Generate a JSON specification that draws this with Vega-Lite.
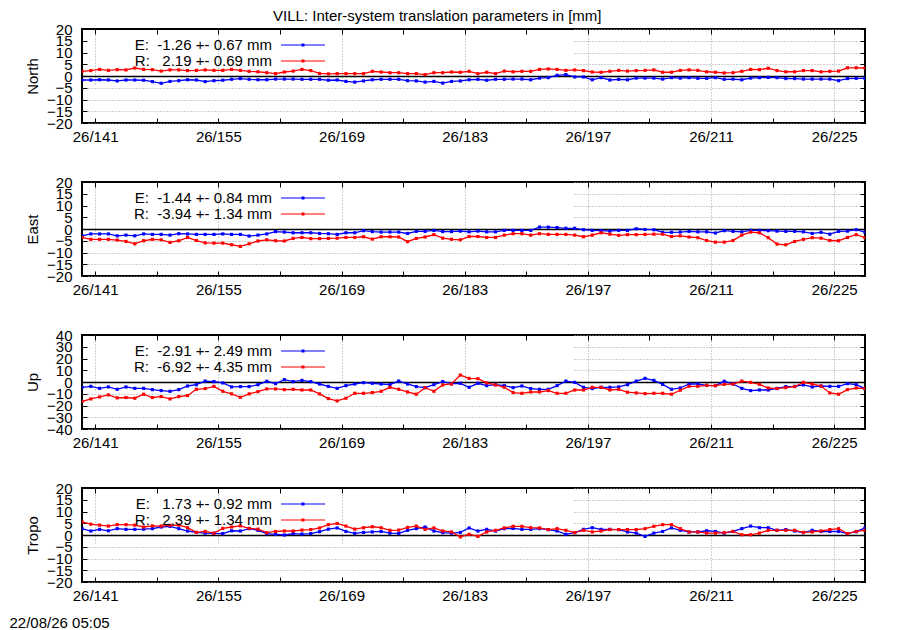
{
"$schema": "https://vega.github.io/schema/vega-lite/v6.json",
"padding": {"left": 8, "top": 9, "right": 5, "bottom": 0},
"background": "white",
"title": {"text": "VILL: Inter-system translation parameters in [mm]", "fontSize": 15, "fontWeight": "normal", "font": "Liberation Sans", "color": "black", "anchor": "middle", "offset": -3},
"data": {"values": [
{"d":139.5,"nE":-1.7,"nR":2.0,"eE":-2.9,"eR":-3.6,"uE":-4.5,"uR":-16.6,"tE":2.7,"tR":5.6},
{"d":140.5,"nE":-1.7,"nR":2.3,"eE":-2.1,"eR":-4.4,"uE":-3.7,"uR":-14.4,"tE":1.7,"tR":4.6},
{"d":141.5,"nE":-1.6,"nR":2.8,"eE":-2.1,"eR":-4.4,"uE":-5.4,"uR":-12.7,"tE":2.4,"tR":4.2},
{"d":142.5,"nE":-1.7,"nR":2.4,"eE":-2.1,"eR":-4.4,"uE":-4.2,"uR":-11.0,"tE":1.8,"tR":3.8},
{"d":143.5,"nE":-2.1,"nR":2.7,"eE":-2.9,"eR":-4.7,"uE":-6.2,"uR":-13.5,"tE":2.7,"tR":4.4},
{"d":144.5,"nE":-1.7,"nR":2.6,"eE":-2.6,"eR":-5.3,"uE":-4.2,"uR":-13.2,"tE":2.4,"tR":4.4},
{"d":145.5,"nE":-1.7,"nR":3.4,"eE":-2.9,"eR":-6.3,"uE":-5.4,"uR":-13.8,"tE":2.4,"tR":4.2},
{"d":146.5,"nE":-1.8,"nR":2.8,"eE":-2.1,"eR":-5.0,"uE":-5.4,"uR":-10.4,"tE":2.5,"tR":3.4},
{"d":147.5,"nE":-2.4,"nR":2.7,"eE":-2.3,"eR":-4.4,"uE":-6.5,"uR":-13.2,"tE":2.7,"tR":3.9},
{"d":148.5,"nE":-3.1,"nR":2.1,"eE":-2.3,"eR":-4.6,"uE":-7.3,"uR":-12.4,"tE":3.4,"tR":3.8},
{"d":149.5,"nE":-2.3,"nR":2.6,"eE":-2.6,"eR":-5.7,"uE":-7.9,"uR":-14.4,"tE":3.7,"tR":4.1},
{"d":150.5,"nE":-2.0,"nR":2.6,"eE":-2.0,"eR":-5.0,"uE":-6.5,"uR":-12.4,"tE":2.7,"tR":4.2},
{"d":151.5,"nE":-1.6,"nR":2.3,"eE":-2.1,"eR":-3.6,"uE":-3.4,"uR":-11.5,"tE":1.7,"tR":3.1},
{"d":152.5,"nE":-1.7,"nR":2.4,"eE":-2.3,"eR":-4.9,"uE":-2.3,"uR":-6.2,"tE":1.1,"tR":1.1},
{"d":153.5,"nE":-2.4,"nR":2.6,"eE":-2.3,"eR":-5.9,"uE":0.8,"uR":-5.6,"tE":0.8,"tR":1.5},
{"d":154.5,"nE":-2.0,"nR":2.4,"eE":-2.3,"eR":-6.0,"uE":0.3,"uR":-3.7,"tE":0.7,"tR":0.8},
{"d":155.5,"nE":-1.8,"nR":2.4,"eE":-2.1,"eR":-6.0,"uE":-0.8,"uR":-7.9,"tE":0.6,"tR":2.8},
{"d":156.5,"nE":-1.4,"nR":2.8,"eE":-2.3,"eR":-6.7,"uE":-4.2,"uR":-10.1,"tE":1.8,"tR":3.4},
{"d":157.5,"nE":-1.1,"nR":2.4,"eE":-2.3,"eR":-7.4,"uE":-3.9,"uR":-13.0,"tE":1.7,"tR":3.9},
{"d":158.5,"nE":-1.4,"nR":2.0,"eE":-3.0,"eR":-6.3,"uE":-3.9,"uR":-10.1,"tE":2.7,"tR":2.8},
{"d":159.5,"nE":-1.6,"nR":1.8,"eE":-2.6,"eR":-5.1,"uE":-2.3,"uR":-8.2,"tE":2.0,"tR":2.5},
{"d":160.5,"nE":-1.6,"nR":1.4,"eE":-2.1,"eR":-4.6,"uE":0.6,"uR":-5.9,"tE":0.6,"tR":1.0},
{"d":161.5,"nE":-1.3,"nR":1.0,"eE":-1.1,"eR":-5.0,"uE":-1.4,"uR":-5.9,"tE":0.3,"tR":1.5},
{"d":162.5,"nE":-1.3,"nR":1.7,"eE":-1.3,"eR":-5.1,"uE":2.0,"uR":-6.5,"tE":0.0,"tR":1.7},
{"d":163.5,"nE":-1.3,"nR":2.1,"eE":-1.6,"eR":-4.0,"uE":0.3,"uR":-6.2,"tE":0.6,"tR":1.7},
{"d":164.5,"nE":-1.4,"nR":2.8,"eE":-1.6,"eR":-3.6,"uE":1.4,"uR":-6.8,"tE":0.4,"tR":2.1},
{"d":165.5,"nE":-1.4,"nR":2.3,"eE":-1.6,"eR":-4.1,"uE":0.3,"uR":-6.8,"tE":0.6,"tR":2.3},
{"d":166.5,"nE":-1.4,"nR":1.1,"eE":-1.9,"eR":-4.1,"uE":-1.7,"uR":-10.1,"tE":1.4,"tR":3.0},
{"d":167.5,"nE":-1.8,"nR":0.9,"eE":-2.0,"eR":-4.0,"uE":-3.7,"uR":-14.1,"tE":2.5,"tR":4.4},
{"d":168.5,"nE":-1.7,"nR":1.0,"eE":-2.3,"eR":-3.9,"uE":-5.4,"uR":-16.1,"tE":3.0,"tR":4.9},
{"d":169.5,"nE":-2.3,"nR":1.0,"eE":-1.6,"eR":-3.6,"uE":-3.1,"uR":-13.8,"tE":1.5,"tR":3.8},
{"d":170.5,"nE":-2.6,"nR":1.0,"eE":-1.6,"eR":-3.6,"uE":-1.7,"uR":-9.6,"tE":0.7,"tR":2.5},
{"d":171.5,"nE":-2.1,"nR":1.0,"eE":-0.7,"eR":-3.3,"uE":-0.6,"uR":-9.6,"tE":1.1,"tR":3.1},
{"d":172.5,"nE":-1.6,"nR":2.0,"eE":-1.1,"eR":-4.3,"uE":-1.1,"uR":-9.0,"tE":1.3,"tR":3.5},
{"d":173.5,"nE":-1.4,"nR":1.7,"eE":-1.3,"eR":-3.3,"uE":-1.7,"uR":-7.9,"tE":1.5,"tR":3.1},
{"d":174.5,"nE":-1.4,"nR":1.4,"eE":-1.3,"eR":-3.3,"uE":-2.3,"uR":-4.5,"tE":0.8,"tR":2.0},
{"d":175.5,"nE":-1.4,"nR":1.4,"eE":-1.3,"eR":-3.4,"uE":0.8,"uR":-6.2,"tE":0.7,"tR":2.1},
{"d":176.5,"nE":-2.0,"nR":1.0,"eE":-1.9,"eR":-5.4,"uE":-1.7,"uR":-8.5,"tE":2.0,"tR":3.2},
{"d":177.5,"nE":-2.1,"nR":1.0,"eE":-1.0,"eR":-4.0,"uE":-3.9,"uR":-10.4,"tE":2.7,"tR":3.8},
{"d":178.5,"nE":-2.6,"nR":0.6,"eE":-1.0,"eR":-3.4,"uE":-4.8,"uR":-4.8,"tE":3.4,"tR":2.4},
{"d":179.5,"nE":-2.3,"nR":1.4,"eE":-0.6,"eR":-2.4,"uE":-2.3,"uR":-7.9,"tE":1.7,"tR":3.0},
{"d":180.5,"nE":-3.0,"nR":1.4,"eE":-1.1,"eR":-3.9,"uE":0.3,"uR":-2.5,"tE":1.0,"tR":1.7},
{"d":181.5,"nE":-2.3,"nR":1.7,"eE":-1.1,"eR":-4.4,"uE":-1.4,"uR":-1.7,"tE":0.8,"tR":1.3},
{"d":182.5,"nE":-2.1,"nR":1.6,"eE":-0.9,"eR":-4.6,"uE":-1.1,"uR":5.9,"tE":1.1,"tR":-0.8},
{"d":183.5,"nE":-1.6,"nR":2.0,"eE":-1.2,"eR":-3.2,"uE":-4.5,"uR":3.1,"tE":3.0,"tR":0.3},
{"d":184.5,"nE":-1.4,"nR":1.0,"eE":-0.9,"eR":-3.2,"uE":-1.1,"uR":2.8,"tE":1.7,"tR":-0.6},
{"d":185.5,"nE":-1.8,"nR":1.6,"eE":-1.2,"eR":-3.6,"uE":-3.1,"uR":-0.8,"tE":2.4,"tR":1.3},
{"d":186.5,"nE":-1.4,"nR":1.0,"eE":-1.2,"eR":-3.6,"uE":-2.3,"uR":-2.5,"tE":1.7,"tR":2.0},
{"d":187.5,"nE":-1.4,"nR":2.1,"eE":-0.6,"eR":-2.6,"uE":-3.1,"uR":-4.5,"tE":2.7,"tR":3.0},
{"d":188.5,"nE":-1.3,"nR":1.8,"eE":-0.6,"eR":-2.0,"uE":-4.8,"uR":-9.0,"tE":2.8,"tR":3.7},
{"d":189.5,"nE":-1.3,"nR":2.0,"eE":-0.6,"eR":-2.0,"uE":-3.4,"uR":-9.6,"tE":2.4,"tR":3.7},
{"d":190.5,"nE":-1.6,"nR":2.0,"eE":-0.6,"eR":-2.6,"uE":-5.6,"uR":-8.5,"tE":2.4,"tR":3.1},
{"d":191.5,"nE":-0.9,"nR":2.8,"eE":0.8,"eR":-2.0,"uE":-6.2,"uR":-8.5,"tE":2.7,"tR":3.0},
{"d":192.5,"nE":-0.7,"nR":3.0,"eE":0.8,"eR":-2.3,"uE":-6.2,"uR":-7.3,"tE":2.3,"tR":2.3},
{"d":193.5,"nE":0.3,"nR":2.8,"eE":0.6,"eR":-2.3,"uE":-3.1,"uR":-9.6,"tE":1.7,"tR":2.7},
{"d":194.5,"nE":0.6,"nR":2.4,"eE":0.3,"eR":-2.3,"uE":0.8,"uR":-9.6,"tE":0.3,"tR":2.0},
{"d":195.5,"nE":-0.4,"nR":2.6,"eE":0.3,"eR":-2.6,"uE":-0.3,"uR":-6.8,"tE":1.0,"tR":1.0},
{"d":196.5,"nE":-0.4,"nR":2.3,"eE":-0.3,"eR":-3.3,"uE":-4.5,"uR":-6.8,"tE":2.4,"tR":2.0},
{"d":197.5,"nE":-1.6,"nR":1.7,"eE":-0.6,"eR":-2.6,"uE":-5.6,"uR":-4.5,"tE":3.1,"tR":1.3},
{"d":198.5,"nE":-0.7,"nR":1.6,"eE":-0.7,"eR":-1.6,"uE":-4.5,"uR":-4.5,"tE":2.4,"tR":1.7},
{"d":199.5,"nE":-1.7,"nR":2.0,"eE":-0.9,"eR":-2.2,"uE":-4.5,"uR":-6.8,"tE":2.4,"tR":2.3},
{"d":200.5,"nE":-1.4,"nR":2.4,"eE":-0.6,"eR":-2.7,"uE":-4.2,"uR":-6.2,"tE":2.3,"tR":2.3},
{"d":201.5,"nE":-1.6,"nR":2.1,"eE":-0.6,"eR":-2.4,"uE":-2.3,"uR":-8.7,"tE":1.3,"tR":2.3},
{"d":202.5,"nE":-0.9,"nR":2.3,"eE":0.1,"eR":-2.4,"uE":0.8,"uR":-9.3,"tE":0.8,"tR":2.3},
{"d":203.5,"nE":-0.9,"nR":2.4,"eE":-0.2,"eR":-2.3,"uE":3.1,"uR":-9.9,"tE":-0.6,"tR":2.7},
{"d":204.5,"nE":-0.9,"nR":2.6,"eE":-0.3,"eR":-2.2,"uE":1.4,"uR":-9.6,"tE":0.8,"tR":3.7},
{"d":205.5,"nE":-1.3,"nR":1.6,"eE":-1.4,"eR":-2.2,"uE":-2.0,"uR":-9.6,"tE":1.5,"tR":4.4},
{"d":206.5,"nE":-0.7,"nR":1.6,"eE":-1.4,"eR":-3.2,"uE":-6.2,"uR":-10.4,"tE":3.0,"tR":4.4},
{"d":207.5,"nE":-0.9,"nR":2.4,"eE":-1.3,"eR":-2.9,"uE":-5.1,"uR":-7.0,"tE":2.0,"tR":2.7},
{"d":208.5,"nE":-0.7,"nR":2.6,"eE":-1.0,"eR":-3.4,"uE":-1.7,"uR":-3.7,"tE":1.3,"tR":1.3},
{"d":209.5,"nE":-1.0,"nR":2.4,"eE":-1.2,"eR":-3.7,"uE":-1.7,"uR":-3.7,"tE":1.3,"tR":1.3},
{"d":210.5,"nE":-1.0,"nR":1.8,"eE":-1.2,"eR":-4.9,"uE":-2.8,"uR":-2.8,"tE":1.8,"tR":0.8},
{"d":211.5,"nE":-0.7,"nR":1.6,"eE":-1.7,"eR":-5.6,"uE":-3.1,"uR":-3.1,"tE":1.5,"tR":0.8},
{"d":212.5,"nE":-1.4,"nR":1.3,"eE":-0.7,"eR":-5.6,"uE":0.6,"uR":-2.0,"tE":0.8,"tR":1.0},
{"d":213.5,"nE":-1.3,"nR":1.4,"eE":-1.0,"eR":-4.9,"uE":-1.7,"uR":-1.7,"tE":1.5,"tR":1.5},
{"d":214.5,"nE":-1.6,"nR":2.0,"eE":-1.2,"eR":-2.6,"uE":-5.4,"uR":0.8,"tE":2.7,"tR":0.1},
{"d":215.5,"nE":-0.9,"nR":2.8,"eE":-0.6,"eR":-1.3,"uE":-7.3,"uR":-0.3,"tE":3.8,"tR":0.1},
{"d":216.5,"nE":-0.7,"nR":2.7,"eE":-0.6,"eR":-1.6,"uE":-6.8,"uR":-2.0,"tE":3.1,"tR":0.8},
{"d":217.5,"nE":-0.6,"nR":3.3,"eE":-0.7,"eR":-3.7,"uE":-6.8,"uR":-5.1,"tE":3.1,"tR":2.0},
{"d":218.5,"nE":-0.7,"nR":2.3,"eE":-0.9,"eR":-6.4,"uE":-5.4,"uR":-5.6,"tE":2.0,"tR":2.0},
{"d":219.5,"nE":-1.1,"nR":1.8,"eE":-1.0,"eR":-6.7,"uE":-3.9,"uR":-4.8,"tE":2.3,"tR":2.0},
{"d":220.5,"nE":-1.1,"nR":1.8,"eE":-1.0,"eR":-5.3,"uE":-3.7,"uR":-3.9,"tE":1.7,"tR":2.0},
{"d":221.5,"nE":-1.3,"nR":2.3,"eE":-1.2,"eR":-4.4,"uE":-2.5,"uR":-0.3,"tE":1.0,"tR":1.1},
{"d":222.5,"nE":-1.3,"nR":2.3,"eE":-1.9,"eR":-3.7,"uE":-4.2,"uR":-1.7,"tE":2.0,"tR":1.3},
{"d":223.5,"nE":-1.3,"nR":1.8,"eE":-1.4,"eR":-3.9,"uE":-3.4,"uR":-3.4,"tE":1.5,"tR":1.7},
{"d":224.5,"nE":-1.3,"nR":2.0,"eE":-2.2,"eR":-4.9,"uE":-3.7,"uR":-9.3,"tE":1.5,"tR":2.3},
{"d":225.5,"nE":-2.0,"nR":2.1,"eE":-1.0,"eR":-5.0,"uE":-3.7,"uR":-10.4,"tE":1.5,"tR":2.7},
{"d":226.5,"nE":-1.1,"nR":3.5,"eE":-0.9,"eR":-3.6,"uE":-1.4,"uR":-6.5,"tE":0.6,"tR":0.6},
{"d":227.5,"nE":-1.0,"nR":3.5,"eE":-0.3,"eR":-2.4,"uE":-2.3,"uR":-5.1,"tE":1.4,"tR":1.5},
{"d":228.5,"nE":-1.0,"nR":3.4,"eE":-1.3,"eR":-3.7,"uE":-5.6,"uR":-5.6,"tE":3.0,"tR":2.0}
]},
"spacing": 29,
"resolve": {"scale": {"color": "independent"}, "legend": {"color": "independent"}},
"config": {
  "font": "Liberation Sans",
  "view": {"stroke": "black", "strokeWidth": 2},
  "axis": {"labelFont": "Liberation Sans", "labelFontSize": 15, "labelColor": "black", "titleFont": "Liberation Sans", "titleFontSize": 15, "titleFontWeight": "normal", "titleColor": "black", "tickColor": "black", "tickWidth": 1, "domain": false, "labelFlush": false, "labelOverlap": false},
  "legend": {"labelFont": "Liberation Sans", "labelFontSize": 15, "labelColor": "black", "labelLimit": 400, "padding": 0, "rowPadding": 0, "symbolStrokeWidth": 0, "symbolOpacity": 1}
},
"vconcat": [
{
  "width": 783, "height": 94,
  "transform": [{"fold": ["nE", "nR"], "as": ["s", "v"]}],
  "resolve": {"axis": {"x": "independent", "y": "independent"}},
  "layer": [
    {"mark": {"type": "line", "strokeWidth": 1.3, "clip": true},
     "encoding": {
       "x": {"field": "d", "type": "quantitative", "scale": {"domain": [139.5, 228.5], "nice": false, "zero": false},
             "axis": {"orient": "bottom", "values": [141,148,155,162,169,176,183,190,197,204,211,218,225], "labelExpr": "(datum.value - 141) % 14 === 0 ? '26/' + datum.value : ''", "grid": true, "gridColor": "#a0a0a0",
               "gridDash": {"condition": {"test": "datum.value <= 183", "value": [1,2,1,2,1,2,1,2,1,2,1,2,1,2,1,2,1,2,1,2,1,2,1,2,1,2,1,2,1,2,1,2,1,2,1,2,1,60]}, "value": [1,2]},
               "gridOpacity": {"condition": {"test": "(datum.value - 141) % 14 === 0", "value": 1}, "value": 0}, "tickSize": -5, "labelPadding": 11, "title": null}},
       "y": {"field": "v", "type": "quantitative", "scale": {"domain": [-20, 20], "nice": false},
             "axis": {"orient": "left", "values": [-20,-15,-10,-5,0,5,10,15,20], "grid": true,
               "gridColor": {"condition": {"test": "datum.value === 0", "value": "black"}, "value": "#a0a0a0"},
               "gridDash": {"condition": [{"test": "datum.value === 0", "value": []}, {"test": "datum.value > 0", "value": [0,492,1,2,1,2,1,2,1,2,1,2,1,2,1,2,1,2,1,2,1,2,1,2,1,2,1,2,1,2,1,2,1,2,1,2,1,2,1,2,1,2,1,2,1,2,1,2,1,2,1,2,1,2,1,2,1,2,1,2,1,2,1,2,1,2,1,2,1,2,1,2,1,2,1,2,1,2,1,2,1,2,1,2,1,2,1,2,1,2,1,2,1,2,1,2,1,2,1,2,1,2,1,2,1,2,1,2,1,2,1,2,1,2,1,2,1,2,1,2,1,2,1,2,1,2,1,2,1,2,1,2,1,2,1,2,1,2,1,2,1,2,1,2,1,2,1,2,1,2,1,2,1,2,1,2,1,2,1,2,1,2,1,2,1,2,1,2,1,2,1,2,1,2,1,2,1,2,1,2,1,2,1,2,1,2,1,2,1,2,1,2,1,2,1,2,1,2,1,2]}], "value": [1,2]},
               "gridWidth": {"condition": {"test": "datum.value === 0", "value": 1.6}, "value": 1}, "tickSize": -5, "labelPadding": 15, "title": "North", "titlePadding": 6}},
       "color": {"field": "s", "type": "nominal", "scale": {"domain": ["nE", "nR"], "range": ["#0000ff", "#ff0000"]},
         "legend": {"orient": "none", "legendX": 0, "legendY": 8.5, "title": null, "symbolType": "M-4,-0.095H4V0.095H-4ZM-0.27,-0.27H0.27V0.27H-0.27Z", "symbolSize": 121, "labelAlign": "right", "labelOffset": -38.5, "symbolOffset": 213.5, "rowPadding": 0,
           "labelExpr": "datum.value === 'nE' ? 'E:\u00a0\u00a0-1.26 +- 0.67 mm' : 'R:\u00a0\u00a0\u00a02.19 +- 0.69 mm'"}}
     }},
    {"mark": {"type": "point", "shape": "square", "filled": true, "size": 10, "opacity": 1, "clip": true},
     "encoding": {
       "x": {"field": "d", "type": "quantitative", "axis": {"orient": "top", "values": [141,148,155,162,169,176,183,190,197,204,211,218,225], "labels": false, "grid": false, "tickSize": -5, "title": null}},
       "y": {"field": "v", "type": "quantitative", "axis": {"orient": "right", "values": [-20,-15,-10,-5,0,5,10,15,20], "labels": false, "grid": false, "tickSize": -5, "title": null}},
       "color": {"field": "s", "type": "nominal", "scale": {"domain": ["nE", "nR"], "range": ["#0000ff", "#ff0000"]},
         "legend": {"orient": "none", "legendX": 0, "legendY": 8.5, "title": null, "symbolType": "M-4,-0.095H4V0.095H-4ZM-0.27,-0.27H0.27V0.27H-0.27Z", "symbolSize": 121, "labelAlign": "right", "labelOffset": -38.5, "symbolOffset": 213.5, "rowPadding": 0,
           "labelExpr": "datum.value === 'nE' ? 'E:\u00a0\u00a0-1.26 +- 0.67 mm' : 'R:\u00a0\u00a0\u00a02.19 +- 0.69 mm'"}}
     }}
  ]
},
{
  "width": 783, "height": 94,
  "transform": [{"fold": ["eE", "eR"], "as": ["s", "v"]}],
  "resolve": {"axis": {"x": "independent", "y": "independent"}},
  "layer": [
    {"mark": {"type": "line", "strokeWidth": 1.3, "clip": true},
     "encoding": {
       "x": {"field": "d", "type": "quantitative", "scale": {"domain": [139.5, 228.5], "nice": false, "zero": false},
             "axis": {"orient": "bottom", "values": [141,148,155,162,169,176,183,190,197,204,211,218,225], "labelExpr": "(datum.value - 141) % 14 === 0 ? '26/' + datum.value : ''", "grid": true, "gridColor": "#a0a0a0",
               "gridDash": {"condition": {"test": "datum.value <= 183", "value": [1,2,1,2,1,2,1,2,1,2,1,2,1,2,1,2,1,2,1,2,1,2,1,2,1,2,1,2,1,2,1,2,1,2,1,2,1,60]}, "value": [1,2]},
               "gridOpacity": {"condition": {"test": "(datum.value - 141) % 14 === 0", "value": 1}, "value": 0}, "tickSize": -5, "labelPadding": 11, "title": null}},
       "y": {"field": "v", "type": "quantitative", "scale": {"domain": [-20, 20], "nice": false},
             "axis": {"orient": "left", "values": [-20,-15,-10,-5,0,5,10,15,20], "grid": true,
               "gridColor": {"condition": {"test": "datum.value === 0", "value": "black"}, "value": "#a0a0a0"},
               "gridDash": {"condition": [{"test": "datum.value === 0", "value": []}, {"test": "datum.value > 0", "value": [0,492,1,2,1,2,1,2,1,2,1,2,1,2,1,2,1,2,1,2,1,2,1,2,1,2,1,2,1,2,1,2,1,2,1,2,1,2,1,2,1,2,1,2,1,2,1,2,1,2,1,2,1,2,1,2,1,2,1,2,1,2,1,2,1,2,1,2,1,2,1,2,1,2,1,2,1,2,1,2,1,2,1,2,1,2,1,2,1,2,1,2,1,2,1,2,1,2,1,2,1,2,1,2,1,2,1,2,1,2,1,2,1,2,1,2,1,2,1,2,1,2,1,2,1,2,1,2,1,2,1,2,1,2,1,2,1,2,1,2,1,2,1,2,1,2,1,2,1,2,1,2,1,2,1,2,1,2,1,2,1,2,1,2,1,2,1,2,1,2,1,2,1,2,1,2,1,2,1,2,1,2,1,2,1,2,1,2,1,2,1,2,1,2,1,2,1,2,1,2]}], "value": [1,2]},
               "gridWidth": {"condition": {"test": "datum.value === 0", "value": 1.6}, "value": 1}, "tickSize": -5, "labelPadding": 15, "title": "East", "titlePadding": 6}},
       "color": {"field": "s", "type": "nominal", "scale": {"domain": ["eE", "eR"], "range": ["#0000ff", "#ff0000"]},
         "legend": {"orient": "none", "legendX": 0, "legendY": 8.5, "title": null, "symbolType": "M-4,-0.095H4V0.095H-4ZM-0.27,-0.27H0.27V0.27H-0.27Z", "symbolSize": 121, "labelAlign": "right", "labelOffset": -38.5, "symbolOffset": 213.5, "rowPadding": 0,
           "labelExpr": "datum.value === 'eE' ? 'E:\u00a0\u00a0-1.44 +- 0.84 mm' : 'R:\u00a0\u00a0-3.94 +- 1.34 mm'"}}
     }},
    {"mark": {"type": "point", "shape": "square", "filled": true, "size": 10, "opacity": 1, "clip": true},
     "encoding": {
       "x": {"field": "d", "type": "quantitative", "axis": {"orient": "top", "values": [141,148,155,162,169,176,183,190,197,204,211,218,225], "labels": false, "grid": false, "tickSize": -5, "title": null}},
       "y": {"field": "v", "type": "quantitative", "axis": {"orient": "right", "values": [-20,-15,-10,-5,0,5,10,15,20], "labels": false, "grid": false, "tickSize": -5, "title": null}},
       "color": {"field": "s", "type": "nominal", "scale": {"domain": ["eE", "eR"], "range": ["#0000ff", "#ff0000"]},
         "legend": {"orient": "none", "legendX": 0, "legendY": 8.5, "title": null, "symbolType": "M-4,-0.095H4V0.095H-4ZM-0.27,-0.27H0.27V0.27H-0.27Z", "symbolSize": 121, "labelAlign": "right", "labelOffset": -38.5, "symbolOffset": 213.5, "rowPadding": 0,
           "labelExpr": "datum.value === 'eE' ? 'E:\u00a0\u00a0-1.44 +- 0.84 mm' : 'R:\u00a0\u00a0-3.94 +- 1.34 mm'"}}
     }}
  ]
},
{
  "width": 783, "height": 94,
  "transform": [{"fold": ["uE", "uR"], "as": ["s", "v"]}],
  "resolve": {"axis": {"x": "independent", "y": "independent"}},
  "layer": [
    {"mark": {"type": "line", "strokeWidth": 1.3, "clip": true},
     "encoding": {
       "x": {"field": "d", "type": "quantitative", "scale": {"domain": [139.5, 228.5], "nice": false, "zero": false},
             "axis": {"orient": "bottom", "values": [141,148,155,162,169,176,183,190,197,204,211,218,225], "labelExpr": "(datum.value - 141) % 14 === 0 ? '26/' + datum.value : ''", "grid": true, "gridColor": "#a0a0a0",
               "gridDash": {"condition": {"test": "datum.value <= 183", "value": [1,2,1,2,1,2,1,2,1,2,1,2,1,2,1,2,1,2,1,2,1,2,1,2,1,2,1,2,1,2,1,2,1,2,1,2,1,60]}, "value": [1,2]},
               "gridOpacity": {"condition": {"test": "(datum.value - 141) % 14 === 0", "value": 1}, "value": 0}, "tickSize": -5, "labelPadding": 11, "title": null}},
       "y": {"field": "v", "type": "quantitative", "scale": {"domain": [-40, 40], "nice": false},
             "axis": {"orient": "left", "values": [-40,-30,-20,-10,0,10,20,30,40], "grid": true,
               "gridColor": {"condition": {"test": "datum.value === 0", "value": "black"}, "value": "#a0a0a0"},
               "gridDash": {"condition": [{"test": "datum.value === 0", "value": []}, {"test": "datum.value > 0", "value": [0,492,1,2,1,2,1,2,1,2,1,2,1,2,1,2,1,2,1,2,1,2,1,2,1,2,1,2,1,2,1,2,1,2,1,2,1,2,1,2,1,2,1,2,1,2,1,2,1,2,1,2,1,2,1,2,1,2,1,2,1,2,1,2,1,2,1,2,1,2,1,2,1,2,1,2,1,2,1,2,1,2,1,2,1,2,1,2,1,2,1,2,1,2,1,2,1,2,1,2,1,2,1,2,1,2,1,2,1,2,1,2,1,2,1,2,1,2,1,2,1,2,1,2,1,2,1,2,1,2,1,2,1,2,1,2,1,2,1,2,1,2,1,2,1,2,1,2,1,2,1,2,1,2,1,2,1,2,1,2,1,2,1,2,1,2,1,2,1,2,1,2,1,2,1,2,1,2,1,2,1,2,1,2,1,2,1,2,1,2,1,2,1,2,1,2,1,2,1,2]}], "value": [1,2]},
               "gridWidth": {"condition": {"test": "datum.value === 0", "value": 1.6}, "value": 1}, "tickSize": -5, "labelPadding": 15, "title": "Up", "titlePadding": 6}},
       "color": {"field": "s", "type": "nominal", "scale": {"domain": ["uE", "uR"], "range": ["#0000ff", "#ff0000"]},
         "legend": {"orient": "none", "legendX": 0, "legendY": 8.5, "title": null, "symbolType": "M-4,-0.095H4V0.095H-4ZM-0.27,-0.27H0.27V0.27H-0.27Z", "symbolSize": 121, "labelAlign": "right", "labelOffset": -38.5, "symbolOffset": 213.5, "rowPadding": 0,
           "labelExpr": "datum.value === 'uE' ? 'E:\u00a0\u00a0-2.91 +- 2.49 mm' : 'R:\u00a0\u00a0-6.92 +- 4.35 mm'"}}
     }},
    {"mark": {"type": "point", "shape": "square", "filled": true, "size": 10, "opacity": 1, "clip": true},
     "encoding": {
       "x": {"field": "d", "type": "quantitative", "axis": {"orient": "top", "values": [141,148,155,162,169,176,183,190,197,204,211,218,225], "labels": false, "grid": false, "tickSize": -5, "title": null}},
       "y": {"field": "v", "type": "quantitative", "axis": {"orient": "right", "values": [-40,-30,-20,-10,0,10,20,30,40], "labels": false, "grid": false, "tickSize": -5, "title": null}},
       "color": {"field": "s", "type": "nominal", "scale": {"domain": ["uE", "uR"], "range": ["#0000ff", "#ff0000"]},
         "legend": {"orient": "none", "legendX": 0, "legendY": 8.5, "title": null, "symbolType": "M-4,-0.095H4V0.095H-4ZM-0.27,-0.27H0.27V0.27H-0.27Z", "symbolSize": 121, "labelAlign": "right", "labelOffset": -38.5, "symbolOffset": 213.5, "rowPadding": 0,
           "labelExpr": "datum.value === 'uE' ? 'E:\u00a0\u00a0-2.91 +- 2.49 mm' : 'R:\u00a0\u00a0-6.92 +- 4.35 mm'"}}
     }}
  ]
},
{
  "width": 783, "height": 94,
  "transform": [{"fold": ["tE", "tR"], "as": ["s", "v"]}],
  "resolve": {"axis": {"x": "independent", "y": "independent"}},
  "layer": [
    {"mark": {"type": "line", "strokeWidth": 1.3, "clip": true},
     "encoding": {
       "x": {"field": "d", "type": "quantitative", "scale": {"domain": [139.5, 228.5], "nice": false, "zero": false},
             "axis": {"orient": "bottom", "values": [141,148,155,162,169,176,183,190,197,204,211,218,225], "labelExpr": "(datum.value - 141) % 14 === 0 ? '26/' + datum.value : ''", "grid": true, "gridColor": "#a0a0a0",
               "gridDash": {"condition": {"test": "datum.value <= 183", "value": [1,2,1,2,1,2,1,2,1,2,1,2,1,2,1,2,1,2,1,2,1,2,1,2,1,2,1,2,1,2,1,2,1,2,1,2,1,60]}, "value": [1,2]},
               "gridOpacity": {"condition": {"test": "(datum.value - 141) % 14 === 0", "value": 1}, "value": 0}, "tickSize": -5, "labelPadding": 11, "title": "22/08/26 05:05", "titleX": -73, "titleY": 45, "titleAlign": "left", "titleBaseline": "alphabetic", "titleAnchor": "start"}},
       "y": {"field": "v", "type": "quantitative", "scale": {"domain": [-20, 20], "nice": false},
             "axis": {"orient": "left", "values": [-20,-15,-10,-5,0,5,10,15,20], "grid": true,
               "gridColor": {"condition": {"test": "datum.value === 0", "value": "black"}, "value": "#a0a0a0"},
               "gridDash": {"condition": [{"test": "datum.value === 0", "value": []}, {"test": "datum.value > 0", "value": [0,492,1,2,1,2,1,2,1,2,1,2,1,2,1,2,1,2,1,2,1,2,1,2,1,2,1,2,1,2,1,2,1,2,1,2,1,2,1,2,1,2,1,2,1,2,1,2,1,2,1,2,1,2,1,2,1,2,1,2,1,2,1,2,1,2,1,2,1,2,1,2,1,2,1,2,1,2,1,2,1,2,1,2,1,2,1,2,1,2,1,2,1,2,1,2,1,2,1,2,1,2,1,2,1,2,1,2,1,2,1,2,1,2,1,2,1,2,1,2,1,2,1,2,1,2,1,2,1,2,1,2,1,2,1,2,1,2,1,2,1,2,1,2,1,2,1,2,1,2,1,2,1,2,1,2,1,2,1,2,1,2,1,2,1,2,1,2,1,2,1,2,1,2,1,2,1,2,1,2,1,2,1,2,1,2,1,2,1,2,1,2,1,2,1,2,1,2,1,2]}], "value": [1,2]},
               "gridWidth": {"condition": {"test": "datum.value === 0", "value": 1.6}, "value": 1}, "tickSize": -5, "labelPadding": 15, "title": "Tropo", "titlePadding": 6}},
       "color": {"field": "s", "type": "nominal", "scale": {"domain": ["tE", "tR"], "range": ["#0000ff", "#ff0000"]},
         "legend": {"orient": "none", "legendX": 0, "legendY": 8.5, "title": null, "symbolType": "M-4,-0.095H4V0.095H-4ZM-0.27,-0.27H0.27V0.27H-0.27Z", "symbolSize": 121, "labelAlign": "right", "labelOffset": -38.5, "symbolOffset": 213.5, "rowPadding": 0,
           "labelExpr": "datum.value === 'tE' ? 'E:\u00a0\u00a0\u00a01.73 +- 0.92 mm' : 'R:\u00a0\u00a0\u00a02.39 +- 1.34 mm'"}}
     }},
    {"mark": {"type": "point", "shape": "square", "filled": true, "size": 10, "opacity": 1, "clip": true},
     "encoding": {
       "x": {"field": "d", "type": "quantitative", "axis": {"orient": "top", "values": [141,148,155,162,169,176,183,190,197,204,211,218,225], "labels": false, "grid": false, "tickSize": -5, "title": null}},
       "y": {"field": "v", "type": "quantitative", "axis": {"orient": "right", "values": [-20,-15,-10,-5,0,5,10,15,20], "labels": false, "grid": false, "tickSize": -5, "title": null}},
       "color": {"field": "s", "type": "nominal", "scale": {"domain": ["tE", "tR"], "range": ["#0000ff", "#ff0000"]},
         "legend": {"orient": "none", "legendX": 0, "legendY": 8.5, "title": null, "symbolType": "M-4,-0.095H4V0.095H-4ZM-0.27,-0.27H0.27V0.27H-0.27Z", "symbolSize": 121, "labelAlign": "right", "labelOffset": -38.5, "symbolOffset": 213.5, "rowPadding": 0,
           "labelExpr": "datum.value === 'tE' ? 'E:\u00a0\u00a0\u00a01.73 +- 0.92 mm' : 'R:\u00a0\u00a0\u00a02.39 +- 1.34 mm'"}}
     }}
  ]
}
]
}
